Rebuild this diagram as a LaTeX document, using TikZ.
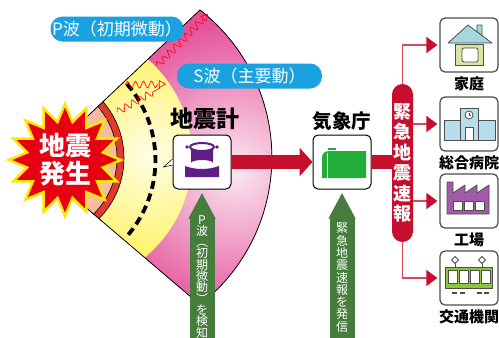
\documentclass[tikz,border=0pt]{standalone}
\usepackage{fontspec}
\setmainfont{Noto Sans CJK JP}
\usetikzlibrary{shapes.geometric,arrows.meta,positioning,decorations.pathmorphing}
\setlength{\lineskiplimit}{-20pt}

\definecolor{fanpink}{HTML}{E4509A}
\definecolor{fanpinklight}{HTML}{FCE8F1}
\definecolor{fanyellow}{HTML}{FFEF2E}
\definecolor{fanyellowlight}{HTML}{FFFDE6}
\definecolor{fanorange}{HTML}{EE8357}
\definecolor{fanorangelight}{HTML}{FDE9DC}
\definecolor{ringred}{HTML}{E2392C}
\definecolor{burstred}{HTML}{E60012}
\definecolor{burstyellow}{HTML}{FFE600}
\definecolor{waveblue}{HTML}{1AA1DF}
\definecolor{alertred}{HTML}{C60F2D}
\definecolor{linkred}{HTML}{D8495F}
\definecolor{sendgreen}{HTML}{467D3C}
\definecolor{seispurple}{HTML}{5E1E85}
\definecolor{pcgreen}{HTML}{22AC38}
\definecolor{iconedge}{HTML}{4D4D4D}
\definecolor{roofblue}{HTML}{A5D7DB}
\definecolor{homewall}{HTML}{D8E6A4}
\definecolor{hospblue}{HTML}{B7DEEA}
\definecolor{factorypurple}{HTML}{A25BA8}
\definecolor{traingreen}{HTML}{8CC63F}

\begin{document}
\begin{tikzpicture}[x=1pt,y=-1pt,
    pill/.style={fill=waveblue,text=white,rounded corners=12pt,minimum height=25pt,inner sep=0pt,font=\fontsize{17}{17}\selectfont},
    unit/.style={draw=black,line width=1pt,fill=white,rounded corners=5pt,minimum width=58pt,minimum height=54pt},
    dest/.style={draw=iconedge,line width=1.2pt,fill=white,rounded corners=5pt,minimum width=58pt,minimum height=54pt},
    destlabel/.style={inner sep=0pt,font=\bfseries\fontsize{15}{15}\selectfont},
    link/.style={draw=linkred,line width=1.3pt,shorten >=2pt,-{Triangle[length=11pt,width=16pt,color=alertred]}},
    flow/.style={draw=alertred,line width=14pt},
    upflow/.style={draw=sendgreen,line width=25pt,shorten >=3pt,-{Triangle[length=26pt,width=25pt]}},
    uptext/.style={text=white,align=center,inner sep=0pt,anchor=north},
    wave/.style={draw=red,line width=0.6pt,decorate,decoration={snake,amplitude=3.5pt,segment length=8pt,post length=7pt},-{Triangle[open,length=7pt,width=8pt]}},
    icon/.style={draw=iconedge,line width=0.8pt,line join=round}]
\path[use as bounding box,fill=white] (0,0) rectangle (499,338);

\def\fan{(36,165) -- (200,10) arc[start angle=-52,end angle=52,radius=187] -- cycle}
\begin{scope}
  \clip \fan;
  \fill[fanpink] \fan;
  \shade[inner color=fanpinklight,outer color=fanpink] (235,170) circle (150);
  \fill[fanyellow] (62,157) circle (130);
  \begin{scope}
    \clip (62,157) circle (130);
    \shade[inner color=fanyellowlight,outer color=fanyellow] (150,155) circle (150);
  \end{scope}
  \filldraw[fill=ringred,draw=black,line width=0.6pt] (38,158) circle (86);
  \fill[fanorange] (38,158) circle (79);
  \begin{scope}
    \clip (38,158) circle (79);
    \shade[inner color=fanorangelight,outer color=fanorange] (55,160) circle (130);
  \end{scope}
  \draw[line width=0.6pt] (38,158) circle (79);
\end{scope}
\draw[line width=0.8pt] \fan;

\draw[line width=3.8pt,dash pattern=on 8pt off 5pt] (127,84) arc[start angle=-41,end angle=42,radius=116];

\draw[wave] (157,66) -- (208,14);
\draw[wave] (125,85) -- (166,84);
\draw[wave,-] (117,112) -- (160,88);

\node[star,star points=16,star point ratio=1.45,minimum size=112pt,inner sep=0pt,
  fill=burstred,draw=burstyellow,line width=2.5pt] (quake) at (65,160) {};
\node[text=white,align=center,inner sep=0pt,font=\bfseries\fontsize{26}{28}\selectfont] (quaketext) at (quake) {地震\\発生};

\node[pill,minimum width=133pt] (pwave) at (117,29) {P波（初期微動）};
\node[pill,minimum width=145pt] (swave) at (249.5,76) {S波（主要動）};

\node[unit] (seis) at (202,162) {};
\node[unit] (jma) at (342,162) {};
\node[inner sep=0pt,font=\bfseries\fontsize{23}{23}\selectfont,above=5pt of seis,xshift=3pt] (seislabel) {地震計};
\node[inner sep=0pt,font=\bfseries\fontsize{19.5}{19.5}\selectfont,above=4pt of jma] (jmalabel) {気象庁};

% seismometer
\filldraw[fill=white,draw=black,line width=0.5pt] ([yshift=-3pt]seis.west) -- ++(-9,2) -- ([yshift=3pt]seis.west);
\begin{scope}[shift={(seis.center)}]
  \fill[seispurple] (-11,-14) -- (-11,1) arc[start angle=180,end angle=0,x radius=11,y radius=-3] -- (11,-14) -- cycle;
  \filldraw[fill=white,draw=seispurple,line width=2pt] (0,-15) ellipse (12 and 4);
  \fill[seispurple] (-15,-15) circle (1.8) (15,-15) circle (1.8);
  \fill[seispurple] (-17,4) .. controls (-6,8) and (6,8) .. (17,4) -- (17,15) -- (-17,15) -- cycle;
\end{scope}
% computer
\begin{scope}[shift={(jma.center)}]
  \fill[pcgreen] (-20,16) -- (-20,-4) .. controls (-20,-9) and (-17,-11) .. (-12,-11) -- (24,-11) -- (24,16) -- cycle;
  \fill[pcgreen] (-14,-14) rectangle (-6,-12);
  \draw[white,line width=1pt] (-15,-9) -- (-15,16);
\end{scope}

\draw[flow,-{Triangle[length=13pt,width=28pt]}] (seis) -- (jma);

\node[fill=alertred,text=white,rounded corners=10.5pt,minimum width=21pt,minimum height=158pt,inner sep=0pt,
  align=center,font=\bfseries\fontsize{18}{20.5}\selectfont] (alert) at (402.5,163) {緊\\急\\地\\震\\速\\報};
\draw[flow] (jma.east) -- (alert.west |- jma.east);

\node[dest] (home) at (469,45) {};
\node[dest] (hosp) at (469,124) {};
\node[dest] (factory) at (469,201) {};
\node[dest] (train) at (469,278) {};
\node[destlabel,below=4pt of home] (homelabel) {家庭};
\node[destlabel,below=4pt of hosp] (hosplabel) {総合病院};
\node[destlabel,below=4pt of factory] (factorylabel) {工場};
\node[destlabel,below=4pt of train] (trainlabel) {交通機関};

\draw[link] (alert.north) |- (home);
\draw[link] (alert.east |- hosp) -- (hosp);
\draw[link] (alert.east |- factory) -- (factory);
\draw[link] (alert.south) |- (train);

% house
\begin{scope}[shift={(home.center)}]
  \filldraw[icon,fill=homewall] (-14,-1) rectangle (14,20);
  \filldraw[icon,fill=white,rounded corners=2pt] (-7,3) rectangle (9,17);
  \filldraw[icon,fill=roofblue] (8,-12) -- (8,-20) -- (13,-20) -- (13,-8) -- cycle;
  \filldraw[icon,fill=roofblue] (-21,-2) -- (-1,-20) -- (23,-2) -- cycle;
\end{scope}
% hospital
\begin{scope}[shift={(hosp.center)}]
  \filldraw[icon,fill=hospblue] (-25,-4) rectangle (-9,16);
  \filldraw[icon,fill=hospblue] (9,-4) rectangle (26,16);
  \filldraw[icon,fill=hospblue] (-9,-16) rectangle (9,16);
  \filldraw[icon,fill=white] (0,-9) circle (4);
  \draw[icon,line width=0.6pt] (0,-11.5) -- (0,-9) -- (2,-9);
  \filldraw[icon,fill=white] (-4,16) -- (-4,3) -- (4,3) -- (4,16);
\end{scope}
% factory
\begin{scope}[shift={(factory.center)}]
  \filldraw[icon,fill=factorypurple] (-22,13) -- (-22,-19) -- (-16,-19) -- (-16,-8) -- (-4,-16) -- (-4,-8) -- (8,-16) -- (8,-8) -- (20,-16) -- (20,13) -- cycle;
  \foreach \wx in {-16,-5,6}
    \filldraw[icon,fill=white] (\wx,0) rectangle ++(9,9);
\end{scope}
% train
\begin{scope}[shift={(train.center)}]
  \draw[icon] (-14,-11) -- (-14,-15) (13,-11) -- (13,-15);
  \filldraw[icon,fill=white] (-14,-14.5) -- (-17.5,-18) -- (-14,-21.5) -- (-10.5,-18) -- cycle;
  \filldraw[icon,fill=white] (13,-14.5) -- (9.5,-18) -- (13,-21.5) -- (16.5,-18) -- cycle;
  \filldraw[icon,fill=traingreen] (-24,-11) rectangle (23,10);
  \foreach \wx in {-21,-10,1,12}
    \filldraw[icon,fill=white] (\wx,-8) rectangle ++(9,13);
  \draw[icon,line width=1.5pt] (-17,15) -- (-12,15) (-9,15) -- (-4,15) (8,15) -- (13,15) (15,15) -- (20,15);
\end{scope}

\coordinate (seisfoot) at (202,338);
\coordinate (jmafoot) at (342,338);
\draw[upflow] (seisfoot) -- (seis.south);
\draw[upflow] (jmafoot) -- (jma.south);
\node[uptext,font=\fontsize{12}{11.3}\selectfont] (seisnote) at (202,215)
  {P\\波\\︵\\初\\期\\微\\動\\︶\\を\\検\\知};
\node[uptext,font=\fontsize{12}{12.3}\selectfont] (jmanote) at (342,223)
  {緊\\急\\地\\震\\速\\報\\を\\発\\信};
\end{tikzpicture}
\end{document}
